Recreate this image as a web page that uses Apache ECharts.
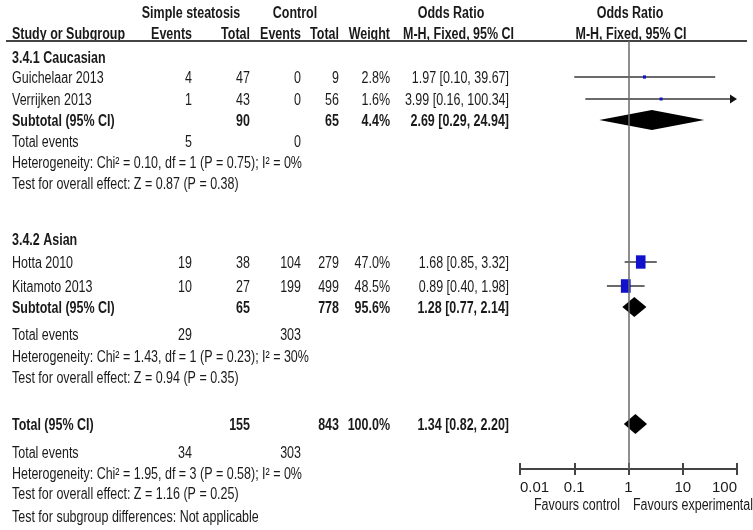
<!DOCTYPE html>
<html><head><meta charset="utf-8">
<script src="https://cdn.jsdelivr.net/npm/echarts@6/dist/echarts.min.js"></script>
<style>html,body{margin:0;padding:0;background:#fff}#c{width:753px;height:530px}</style>
</head><body><div id="c"></div>
<script>
// ---------------- DATA ----------------
const groups = ['3.4.1 Caucasian', '3.4.2 Asian'];
const studies = ['Guichelaar 2013', 'Verrijken 2013', 'Hotta 2010', 'Kitamoto 2013'];
const studyGroup = [0, 0, 1, 1];
const expEvents = [4, 1, 19, 10];
const expTotal = [47, 43, 38, 27];
const ctlEvents = [0, 0, 104, 199];
const ctlTotal = [9, 56, 279, 499];
const weights = [2.8, 1.6, 47.0, 48.5];
const orEst = [1.97, 3.99, 1.68, 0.89];
const orLow = [0.10, 0.16, 0.85, 0.40];
const orHigh = [39.67, 100.34, 3.32, 1.98];

const subExpTotal = [90, 65];
const subCtlTotal = [65, 778];
const subWeight = [4.4, 95.6];
const subEst = [2.69, 1.28];
const subLow = [0.29, 0.77];
const subHigh = [24.94, 2.14];
const subExpEvents = [5, 29];
const subCtlEvents = [0, 303];
const subHet = ['Heterogeneity: Chi² = 0.10, df = 1 (P = 0.75); I² = 0%',
                'Heterogeneity: Chi² = 1.43, df = 1 (P = 0.23); I² = 30%'];
const subTest = ['Test for overall effect: Z = 0.87 (P = 0.38)',
                 'Test for overall effect: Z = 0.94 (P = 0.35)'];

const totExpTotal = 155, totCtlTotal = 843, totWeight = 100.0;
const totEst = 1.34, totLow = 0.82, totHigh = 2.20;
const totExpEvents = 34, totCtlEvents = 303;
const totHet = 'Heterogeneity: Chi² = 1.95, df = 3 (P = 0.58); I² = 0%';
const totTest = 'Test for overall effect: Z = 1.16 (P = 0.25)';
const subgroupTest = 'Test for subgroup differences: Not applicable';

const axisMin = 0.01, axisMax = 100;
const favours = ['Favours control', 'Favours experimental'];

// ---------------- LAYOUT ----------------
const FONT = '"Liberation Sans", Arial, sans-serif';
const FS = 16;
const NARROW = 0.78;
const TY = 1.5; // text baseline nudge
const COL = {name: 12, e1: 192, t1: 250, e2: 301, t2: 339, w: 390, or: 509};
const hdrY = [12, 33];
const groupY = [
  {title: 57, studies: [77, 99], sub: 120, ev: 141, het: 162, test: 183},
  {title: 239, studies: [262, 286], sub: 307, ev: 334, het: 356, test: 377}
];
const totY = {sub: 424, ev: 452, het: 473, test: 493, sg: 516};
const GRID_TOP = 41, GRID_BOTTOM = 469;

const fmtOR = (e, l, h) => e.toFixed(2) + ' [' + l.toFixed(2) + ', ' + h.toFixed(2) + ']';
const TXT = '#1a1a1a';
const graphics = [];
function txt(x, y, s, align, bold) {
  graphics.push({type: 'text', x: x, y: y + TY, scaleX: NARROW, silent: true,
    style: {text: String(s), font: (bold ? 'bold ' : '') + FS + 'px ' + FONT, fill: TXT,
            align: align || 'left', verticalAlign: 'middle'}});
}
// headers
txt(191, hdrY[0], 'Simple steatosis', 'center', true);
txt(295, hdrY[0], 'Control', 'center', true);
txt(451, hdrY[0], 'Odds Ratio', 'center', true);
txt(630, hdrY[0], 'Odds Ratio', 'center', true);
txt(COL.name, hdrY[1], 'Study or Subgroup', 'left', true);
txt(COL.e1, hdrY[1], 'Events', 'right', true);
txt(COL.t1, hdrY[1], 'Total', 'right', true);
txt(COL.e2, hdrY[1], 'Events', 'right', true);
txt(COL.t2, hdrY[1], 'Total', 'right', true);
txt(COL.w, hdrY[1], 'Weight', 'right', true);
txt(COL.or + 5, hdrY[1], 'M-H, Fixed, 95% CI', 'right', true);
txt(631, hdrY[1], 'M-H, Fixed, 95% CI', 'center', true);
graphics.push({type: 'line', silent: true, shape: {x1: 6, y1: GRID_TOP, x2: 747, y2: GRID_TOP},
  style: {stroke: '#444', lineWidth: 2}});

const studyY = [];
groups.forEach((g, gi) => {
  const L = groupY[gi];
  txt(COL.name, L.title, g, 'left', true);
  let k = 0;
  studies.forEach((s, i) => {
    if (studyGroup[i] !== gi) return;
    const y = L.studies[k++];
    studyY[i] = y;
    txt(COL.name, y, s);
    txt(COL.e1, y, expEvents[i], 'right');
    txt(COL.t1, y, expTotal[i], 'right');
    txt(COL.e2, y, ctlEvents[i], 'right');
    txt(COL.t2, y, ctlTotal[i], 'right');
    txt(COL.w, y, weights[i].toFixed(1) + '%', 'right');
    txt(COL.or, y, fmtOR(orEst[i], orLow[i], orHigh[i]), 'right');
  });
  txt(COL.name, L.sub, 'Subtotal (95% CI)', 'left', true);
  txt(COL.t1, L.sub, subExpTotal[gi], 'right', true);
  txt(COL.t2, L.sub, subCtlTotal[gi], 'right', true);
  txt(COL.w, L.sub, subWeight[gi].toFixed(1) + '%', 'right', true);
  txt(COL.or, L.sub, fmtOR(subEst[gi], subLow[gi], subHigh[gi]), 'right', true);
  txt(COL.name, L.ev, 'Total events');
  txt(COL.e1, L.ev, subExpEvents[gi], 'right');
  txt(COL.e2, L.ev, subCtlEvents[gi], 'right');
  txt(COL.name, L.het, subHet[gi]);
  txt(COL.name, L.test, subTest[gi]);
});
txt(COL.name, totY.sub, 'Total (95% CI)', 'left', true);
txt(COL.t1, totY.sub, totExpTotal, 'right', true);
txt(COL.t2, totY.sub, totCtlTotal, 'right', true);
txt(COL.w, totY.sub, totWeight.toFixed(1) + '%', 'right', true);
txt(COL.or, totY.sub, fmtOR(totEst, totLow, totHigh), 'right', true);
txt(COL.name, totY.ev, 'Total events');
txt(COL.e1, totY.ev, totExpEvents, 'right');
txt(COL.e2, totY.ev, totCtlEvents, 'right');
txt(COL.name, totY.het, totHet);
txt(COL.name, totY.test, totTest);
txt(COL.name, totY.sg, subgroupTest);
txt(620, 504, favours[0], 'right');
txt(633, 504, favours[1], 'left');

// ---------------- SERIES DATA ----------------
const studyData = studies.map((s, i) => [orEst[i], orLow[i], orHigh[i], studyY[i], weights[i]]);
const diamondData = groups.map((g, gi) => [subEst[gi], subLow[gi], subHigh[gi], groupY[gi].sub]);
diamondData.push([totEst, totLow, totHigh, totY.sub]);

function renderStudy(params, api) {
  const est = api.value(0), lo = api.value(1), hi = api.value(2), y = api.value(3), w = api.value(4);
  const pL = api.coord([Math.max(lo, axisMin), y]);
  const pR = api.coord([Math.min(hi, axisMax), y]);
  const pE = api.coord([est, y]);
  const ch = [];
  const xr = hi > axisMax ? pR[0] - 2 : pR[0];
  ch.push({type: 'line', shape: {x1: pL[0], y1: pL[1], x2: xr, y2: pR[1]}, style: {stroke: '#6a6a6a', lineWidth: 2}});
  if (hi > axisMax) {
    ch.push({type: 'polygon', shape: {points: [[pR[0] - 7, pR[1] - 4.5], [pR[0], pR[1]], [pR[0] - 7, pR[1] + 4.5]]},
      style: {fill: '#111'}});
  }
  const sw = Math.max(3, 1.4 * Math.sqrt(w)), sh = Math.max(3, 1.95 * Math.sqrt(w));
  ch.push({type: 'rect', shape: {x: pE[0] - sw / 2, y: pE[1] - sh / 2, width: sw, height: sh}, style: {fill: '#1111cc'}});
  return {type: 'group', children: ch};
}
function renderDiamond(params, api) {
  const est = api.value(0), lo = api.value(1), hi = api.value(2), y = api.value(3);
  const pL = api.coord([lo, y]), pR = api.coord([hi, y]), pE = api.coord([est, y]);
  const hh = 10;
  return {type: 'polygon', shape: {points: [pL, [pE[0], pE[1] - hh], pR, [pE[0], pE[1] + hh]]}, style: {fill: '#000'}};
}

const chart = echarts.init(document.getElementById('c'), null, {renderer: 'canvas'});
chart.setOption({
  animation: false,
  backgroundColor: '#fff',
  grid: {left: 520, right: 16, top: GRID_TOP, height: GRID_BOTTOM - GRID_TOP, containLabel: false},
  xAxis: [
    {type: 'log', logBase: 10, min: axisMin, max: axisMax, position: 'bottom',
     axisLine: {show: true, lineStyle: {color: '#444', width: 2}},
     axisTick: {show: true, length: 6, lineStyle: {color: '#444', width: 2}},
     axisLabel: {show: true, fontSize: 15, fontFamily: FONT, color: TXT, margin: 11,
                 alignMinLabel: 'left', alignMaxLabel: 'right'},
     splitLine: {show: false}, minorTick: {show: false}},
    {type: 'log', logBase: 10, min: axisMin, max: axisMax, position: 'bottom',
     axisLine: {show: false},
     axisTick: {show: true, inside: true, length: 6, lineStyle: {color: '#444', width: 2}},
     axisLabel: {show: false}, splitLine: {show: false}}
  ],
  yAxis: {type: 'value', inverse: true, min: GRID_TOP, max: GRID_BOTTOM, show: false, splitLine: {show: false}},
  graphic: graphics,
  series: [
    {type: 'custom', name: 'studies', renderItem: renderStudy, data: studyData, clip: false,
     encode: {x: [0, 1, 2], y: 3}, z: 3,
     markLine: {silent: true, symbol: 'none', label: {show: false},
       lineStyle: {color: '#6a6a6a', width: 1.5, type: 'solid'}, data: [{xAxis: 1}]}},
    {type: 'custom', name: 'pooled', renderItem: renderDiamond, data: diamondData, clip: false,
     encode: {x: [0, 1, 2], y: 3}, z: 4}
  ]
});
</script></body></html>
